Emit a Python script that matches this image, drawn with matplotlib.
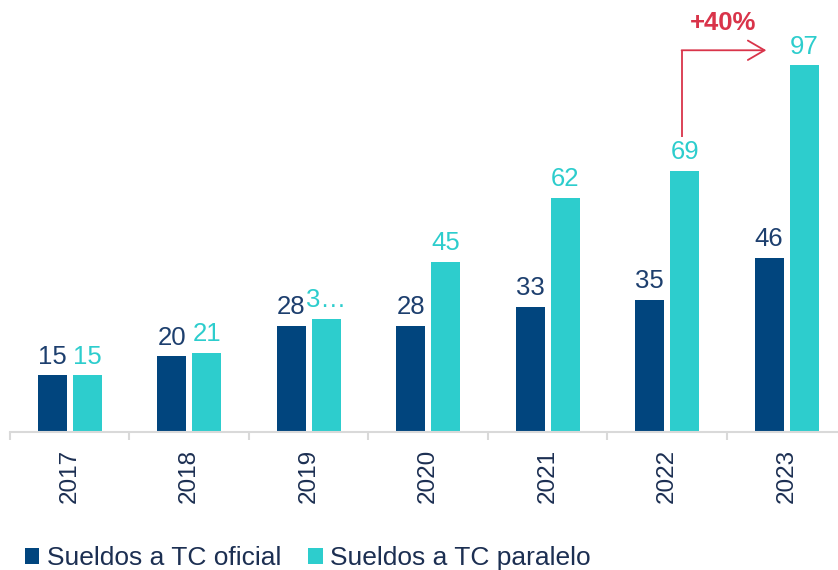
import numpy as np
import matplotlib.pyplot as plt

plt.rcParams['font.family'] = ['Liberation Sans', 'DejaVu Sans']

years = ['2017', '2018', '2019', '2020', '2021', '2022', '2023']
oficial = [15, 20, 28, 28, 33, 35, 46]
paralelo = [15, 21, 30, 45, 62, 69, 97]
paralelo_labels = ['15', '21', '3…', '45', '62', '69', '97']
series_names = ['Sueldos a TC oficial', 'Sueldos a TC paralelo']
growth_label = '+40%'

DARK = '#01457E'
TEAL = '#2DCDCD'
NAVY = '#1C2F52'
LABEL_DARK = '#1D3F6E'
RED = '#D9344A'
GREY = '#D9D9D9'

fig = plt.figure(figsize=(8.38, 5.70), dpi=100)
ax = fig.add_axes([10 / 838, 138 / 570, 828 / 838, 432 / 570])

x = np.arange(len(years))
w = 0.243
off = 0.146
b1 = ax.bar(x - off, oficial, w, color=DARK, label=series_names[0])
b2 = ax.bar(x + off, paralelo, w, color=TEAL, label=series_names[1])

for xi, v in zip(x, oficial):
    ax.annotate(str(v), (xi - off, v), xytext=(0, 8.5), textcoords='offset points',
                ha='center', va='baseline', fontsize=18.5, color=LABEL_DARK)
for xi, v, lab in zip(x, paralelo, paralelo_labels):
    ax.annotate(lab, (xi + off, v), xytext=(0, 8.5), textcoords='offset points',
                ha='center', va='baseline', fontsize=18.5, color=TEAL)

ax.set_xlim(-0.5, 6.43)
ax.set_ylim(0, 114.3)
for s in ['top', 'left', 'right']:
    ax.spines[s].set_visible(False)
ax.spines['bottom'].set_color(GREY)
ax.spines['bottom'].set_linewidth(1.5)
ax.set_yticks([])
ax.set_xticks(x, years, rotation=90, fontsize=17.5, color=NAVY)
ax.tick_params(axis='x', which='major', length=0, pad=12)
ax.set_xticks(np.arange(-0.5, len(years) - 1, 1), minor=True)
ax.tick_params(axis='x', which='minor', length=6, color=GREY, width=1.5)

# flecha de crecimiento 2022 -> 2023
x0 = 5 + off - 0.02
y_top = 101
ax.plot([x0, x0], [paralelo[5] + 9, y_top], color=RED, lw=1.3, solid_capstyle='butt')
ax.annotate('', xy=(5.83, y_top), xytext=(x0 - 0.005, y_top),
            arrowprops=dict(arrowstyle='->,head_length=1.2,head_width=0.7',
                            color=RED, lw=1.3, shrinkA=0, shrinkB=0, mutation_scale=10))
ax.text(5.47, 108.3, growth_label, ha='center', va='center', fontsize=18.5,
        fontweight='bold', color=RED)

fig.legend(handles=[b1, b2], loc='lower left', bbox_to_anchor=(9 / 838, -0.028), ncol=2,
           frameon=False, fontsize=19, handlelength=0.55, handleheight=0.55,
           handletextpad=0.3, columnspacing=1.0, labelcolor=NAVY, borderaxespad=0.2)

fig.savefig('out.png', dpi=100)
